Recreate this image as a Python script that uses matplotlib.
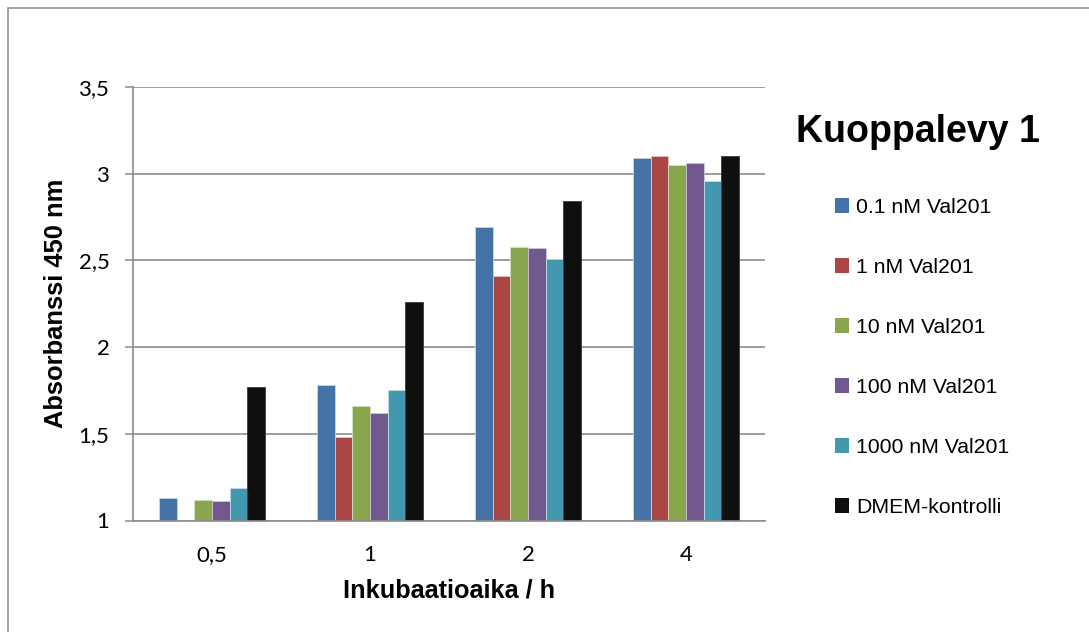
import matplotlib
matplotlib.use("Agg")
import matplotlib.pyplot as plt
import numpy as np
from matplotlib.patches import Rectangle

# Absorbance readings per incubation time
categories = ["0,5", "1", "2", "4"]
series_names = ["0.1 nM Val201", "1 nM Val201", "10 nM Val201",
                "100 nM Val201", "1000 nM Val201", "DMEM-kontrolli"]
val_01 = [1.13, 1.78, 2.69, 3.09]
val_1 = [np.nan, 1.48, 2.41, 3.10]
val_10 = [1.12, 1.66, 2.58, 3.05]
val_100 = [1.11, 1.62, 2.57, 3.06]
val_1000 = [1.19, 1.75, 2.51, 2.96]
dmem = [1.77, 2.26, 2.84, 3.10]
y_ticks = [1, 1.5, 2, 2.5, 3, 3.5]
y_tick_labels = ["1", "1,5", "2", "2,5", "3", "3,5"]

colors = ["#4572A7", "#AA4643", "#89A54E", "#71588F", "#4198AF", "#0F0F0F"]
edges = ["#c9d5e8", "#e3c3c2", "#d3dfbf", "#cdc3da", "#c0dde6", "#3a3a3a"]

W, H = 1089, 632
fig = plt.figure(figsize=(W / 100, H / 100), dpi=100)

# thin gray frame around the chart
fig.patches.append(Rectangle((7.5 / W, -0.1), 1.2, 1.1 - 8 / H,
                             transform=fig.transFigure, fill=False,
                             edgecolor="#8c8c8c", linewidth=1.1))

ax = fig.add_axes([133 / W, 1 - 520.5 / H, (765 - 133) / W, (520.5 - 87) / H])

data = [val_01, val_1, val_10, val_100, val_1000, dmem]
x = np.arange(len(categories))
w = 0.111
for i, vals in enumerate(data):
    ax.bar(x + (i - 2.5) * w, np.array(vals) - 1, width=w, bottom=1,
           color=colors[i], edgecolor=edges[i], linewidth=0.6,
           label=series_names[i], zorder=2)

ax.set_xlim(-0.5, 3.5)
ax.set_ylim(1, 3.5)
ax.set_yticks(y_ticks, y_tick_labels)
ax.set_xticks(x, categories)
ax.tick_params(axis="both", labelsize=16, labelfontfamily="Lato")
ax.tick_params(axis="y", length=6, width=1.1, color="#8c8c8c", pad=11)
ax.tick_params(axis="x", length=0, pad=17.5)

ax.grid(axis="y", color="#8c8c8c", linewidth=1.2, zorder=0)
ax.set_axisbelow(True)
for s in ["top", "right"]:
    ax.spines[s].set_visible(False)
for s in ["left", "bottom"]:
    ax.spines[s].set_color("#8c8c8c")
    ax.spines[s].set_linewidth(1.2)

fig.text(56 / W, 1 - 303.5 / H, "Absorbanssi 450 nm", rotation=90,
         ha="center", va="center", fontfamily="Liberation Sans",
         fontweight="bold", fontsize=18.4)
fig.text(449 / W, 1 - 590 / H, "Inkubaatioaika / h", ha="center",
         va="center", fontfamily="Liberation Sans", fontweight="bold",
         fontsize=18.2)

fig.text(918 / W, 1 - 141.5 / H, "Kuoppalevy 1", ha="center", va="baseline",
         fontfamily="Liberation Sans", fontweight="bold", fontsize=27)

leg = fig.legend(loc="upper left", bbox_to_anchor=(835 / W, 1 - 198 / H),
                 frameon=False, prop={"family": "Liberation Sans", "size": 15.3},
                 handlelength=0.68, handleheight=0.68, handletextpad=0.3,
                 labelspacing=1.93, borderpad=0, borderaxespad=0)
for h in leg.legend_handles:
    h.set_linewidth(0)

fig.savefig("out.png", dpi=100)
